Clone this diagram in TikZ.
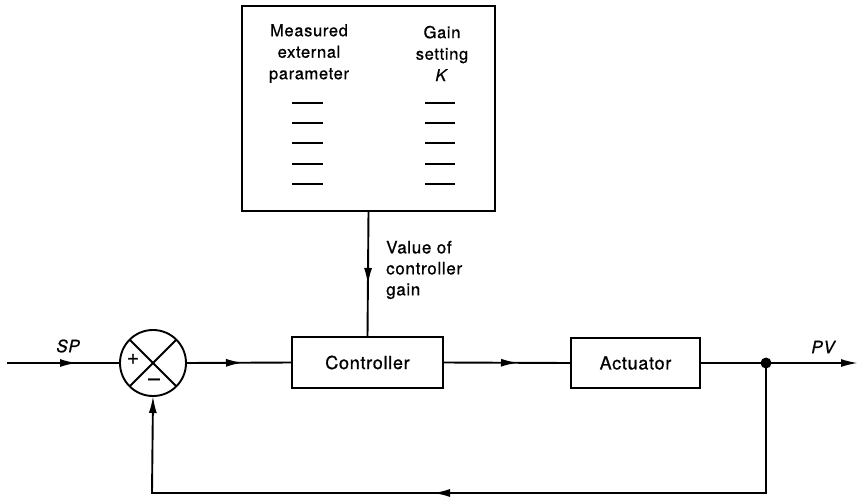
\documentclass[tikz,border=0pt]{standalone}
\usepackage{fontspec}
\setmainfont{TeX Gyre Heros}[LetterSpace=4,FakeBold=0.8]
\usetikzlibrary{arrows.meta,decorations.markings}
\tikzset{
  base/.style={line width=1.9pt},
  blk/.style={draw, base, inner sep=0pt, outer sep=0pt, font=\fontsize{18}{21}\selectfont},
  txt/.style={inner sep=0pt, font=\fontsize{16.5}{21.5}\selectfont, align=center},
  lbl/.style={inner sep=0pt, font=\fontsize{17}{21}\selectfont\itshape},
  tipm/.style={decoration={markings, mark=at position #1 with {\arrow{Latex[length=17pt,width=8pt]}}}, postaction={decorate}},
  tipe/.style={-{Latex[length=17pt,width=8pt]}},
  dashln/.style={line width=1.3pt}
}
\begin{document}
\begin{tikzpicture}[x=1pt,y=-1pt]
\useasboundingbox (0,0) rectangle (859,498);
% blocks
\node[blk, minimum width=253, minimum height=205] (table) at (368.5,108.5) {};
\node[blk, minimum width=151, minimum height=51] (ctrl) at (367.5,362.5) {Controller};
\node[blk, minimum width=129, minimum height=50] (act) at (635.5,363) {Actuator};
\node[draw, base, circle, minimum size=66, inner sep=0pt, outer sep=0pt] (sum) at (153,363) {};
\draw[base] (sum.north west) -- (sum.south east);
\draw[base] (sum.north east) -- (sum.south west);
\node[inner sep=0pt, font=\fontsize{21}{24}\selectfont] (plus) at (133,359) {+};
\node[inner sep=0pt, font=\fontsize{21}{24}\selectfont] (minus) at (154,382) {–};
% table contents
\node[txt] (colA) at (309,53.5) {Measured\\external\\parameter};
\node[txt] (colB) at (442,53.5) {Gain\\setting\\\textit{K}};
\foreach \yy in {103,123,143,164,184}{
  \draw[dashln] (292,\yy) -- (323,\yy);
  \draw[dashln] (425,\yy) -- (455,\yy);
}
% coordinates
\coordinate (spin) at (7,363);
\coordinate (pvout) at (858,363);
\coordinate (fbl) at (152,493);
\node[circle, fill, minimum size=11, inner sep=0pt] (dot) at (766,363) {};
% connectors
\draw[base, tipm=70pt] (spin) -- (sum.west);
\draw[base, tipm=57pt] (sum.east) -- (ctrl.west);
\draw[base, tipm=75pt] (ctrl.east) -- (act.west);
\draw[base, tipm=74pt] (table.south) -- (ctrl.north);
\draw[base, tipe] (act.east) -- (pvout);
\draw[base, tipm=463pt, tipe] (dot.center) |- (fbl) -- (sum.south);
% labels
\node[lbl] (sp) at (68,346) {SP};
\node[lbl] (pv) at (823,347) {PV};
\node[anchor=west, inner sep=0pt, align=left, font=\fontsize{17}{21}\selectfont] (gainlbl) at (386,270) {Value of\\controller\\gain};
\end{tikzpicture}
\end{document}
